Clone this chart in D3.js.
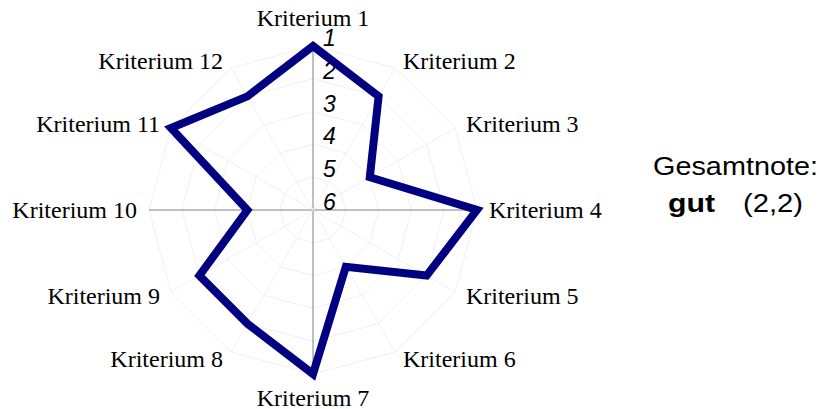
<!DOCTYPE html>
<html>
<head>
<meta charset="utf-8">
<script src="https://cdn.jsdelivr.net/npm/d3@7"></script>
<style>
  body { margin: 0; background: #fff; }
</style>
</head>
<body>
<div id="chart"></div>
<script>
// data
var criteria = ["Kriterium 1", "Kriterium 2", "Kriterium 3", "Kriterium 4", "Kriterium 5", "Kriterium 6",
    "Kriterium 7", "Kriterium 8", "Kriterium 9", "Kriterium 10", "Kriterium 11", "Kriterium 12"];
var grades = [1, 2, 4, 1, 2, 4, 1, 2, 2, 4, 1, 2];
var gradeTicks = [1, 2, 3, 4, 5, 6];
var overallLabel = "Gesamtnote:";
var overallWord = "gut";
var overallValue = "(2,2)";

var width = 823, height = 409;
var cx = 313, cy = 210;

var svg = d3.select("#chart").append("svg")
    .attr("width", width)
    .attr("height", height);

// grade 1 outside, 6 in the centre
var rScale = d3.scaleLinear().domain([6, 1]).range([0, 164]);
var angle = d3.scalePoint().domain(criteria).range([0, 2 * Math.PI * 11 / 12]);

function px(name, r) { return cx + r * Math.sin(angle(name)); }
function py(name, r) { return cy - r * Math.cos(angle(name)); }

var g = svg.append("g");

// faint polygon rings
gradeTicks.slice(0, 5).forEach(function (t) {
    g.append("polygon")
        .attr("points", criteria.map(function (c) { return px(c, rScale(t)) + "," + py(c, rScale(t)); }).join(" "))
        .attr("fill", "none")
        .attr("stroke", "#f1f1f1")
        .attr("stroke-width", 1);
});

// spokes
g.selectAll(".spoke")
    .data(criteria)
    .enter()
    .append("line")
    .attr("class", "spoke")
    .attr("x1", cx).attr("y1", cy)
    .attr("x2", function (d) { return px(d, rScale(1)); })
    .attr("y2", function (d) { return py(d, rScale(1)); })
    .attr("stroke", function (d, i) { return i % 3 == 0 ? "#808080" : "#f1f1f1"; })
    .attr("stroke-width", 1);

// tick numbers along the top axis
g.selectAll(".tick")
    .data(gradeTicks)
    .enter()
    .append("text")
    .attr("x", cx + 10)
    .attr("y", function (d) { return cy - rScale(d) - 8; })
    .attr("dominant-baseline", "central")
    .style("font-family", "Arial, 'Liberation Sans', sans-serif")
    .style("font-style", "italic")
    .style("font-size", "23px")
    .text(function (d) { return d; });

// data polygon
g.append("path")
    .datum(grades)
    .attr("d", d3.lineRadial()
        .angle(function (d, i) { return angle(criteria[i]); })
        .radius(function (d) { return rScale(d); })
        .curve(d3.curveLinearClosed))
    .attr("transform", "translate(" + cx + "," + cy + ")")
    .attr("fill", "none")
    .attr("stroke", "#000080")
    .attr("stroke-width", 8)
    .attr("stroke-linejoin", "miter");

// criterion labels
g.selectAll(".label")
    .data(criteria)
    .enter()
    .append("text")
    .attr("x", function (d, i) {
        var x = px(d, 172);
        if (i == 0 || i == 6) return x;
        return i < 6 ? x + 4 : x - 4;
    })
    .attr("y", function (d, i) {
        if (i == 0) return py(d, 172) - 20;
        if (i == 6) return py(d, 172) + 16;
        return py(d, 172);
    })
    .attr("text-anchor", function (d, i) {
        if (i == 0 || i == 6) return "middle";
        return i < 6 ? "start" : "end";
    })
    .attr("dominant-baseline", "central")
    .style("font-family", "'Liberation Serif', 'Times New Roman', serif")
    .style("font-size", "24px")
    .text(function (d) { return d; });

// overall grade
var note = svg.append("g")
    .style("font-family", "Arial, 'Liberation Sans', sans-serif")
    .style("font-size", "25px");
note.append("text")
    .attr("x", 653).attr("y", 166)
    .attr("dominant-baseline", "central")
    .attr("textLength", 165)
    .attr("lengthAdjust", "spacingAndGlyphs")
    .text(overallLabel);
note.append("text")
    .attr("x", 668).attr("y", 203)
    .attr("dominant-baseline", "central")
    .attr("textLength", 47)
    .attr("lengthAdjust", "spacingAndGlyphs")
    .style("font-weight", "bold")
    .text(overallWord);
note.append("text")
    .attr("x", 743).attr("y", 203)
    .attr("dominant-baseline", "central")
    .attr("textLength", 60)
    .attr("lengthAdjust", "spacingAndGlyphs")
    .text(overallValue);
</script>
</body>
</html>
